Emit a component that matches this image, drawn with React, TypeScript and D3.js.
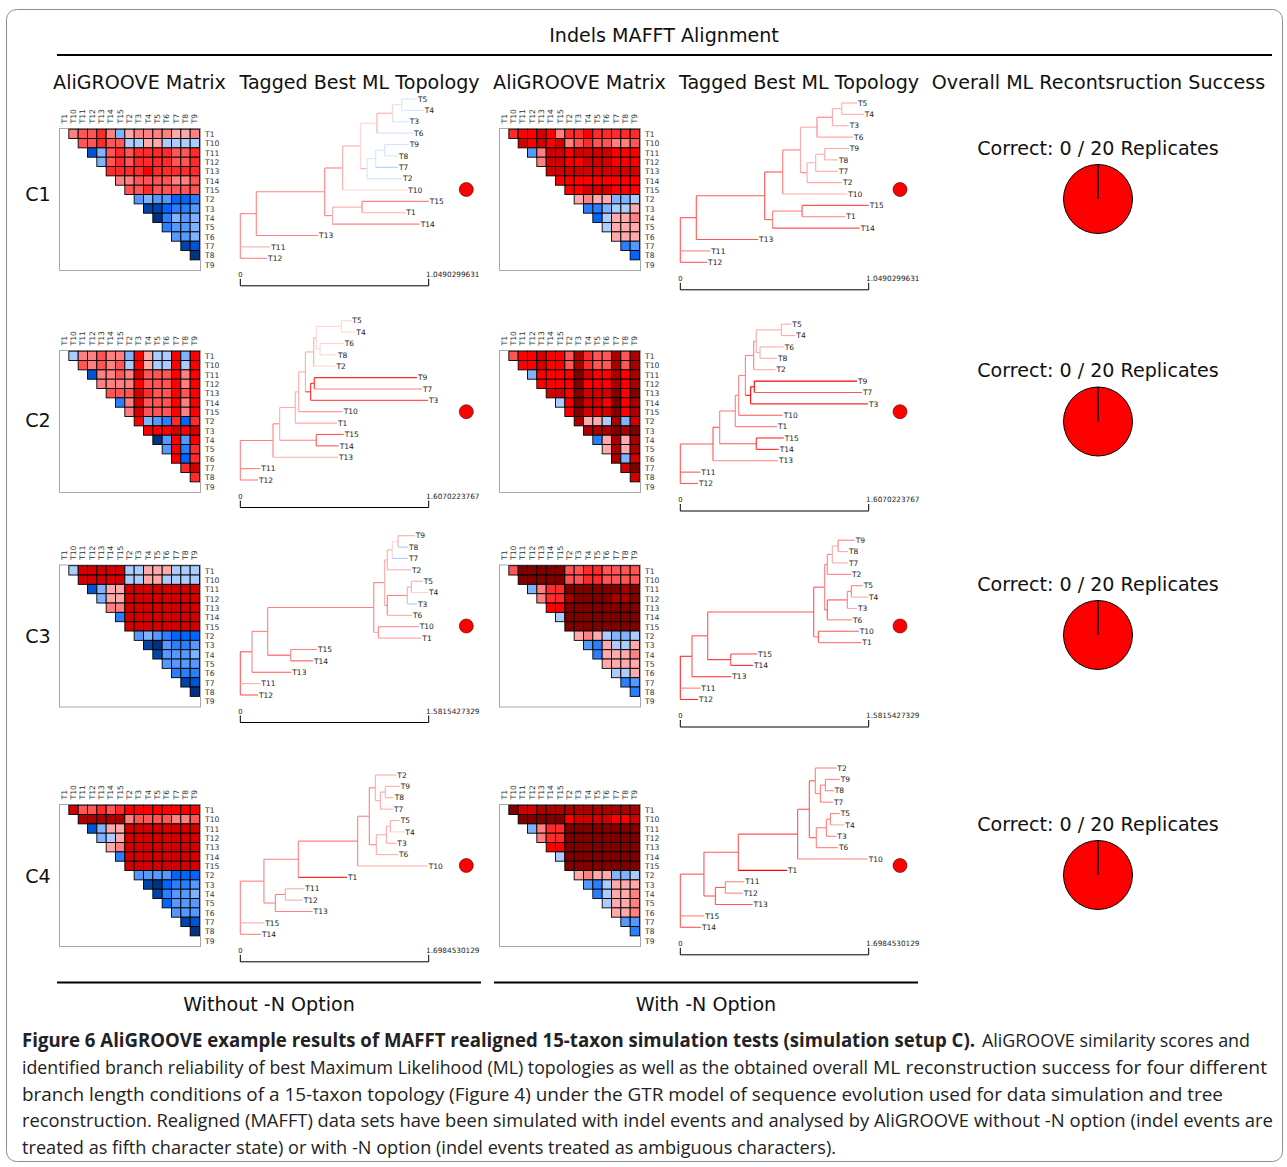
import * as d3 from "d3";

// matrix row / column order
const taxa = ["T1", "T10", "T11", "T12", "T13", "T14", "T15", "T2", "T3", "T4", "T5", "T6", "T7", "T8", "T9"];

// score levels: negative = blue (dissimilar), positive = red (similar)
const levels = [-9, -8, -7, -6, -5, -4, -3, -2, -1, 1, 2, 3, 4, 5, 6, 7, 8, 9];
const levelColors = [
  "#003380", "#0044aa", "#0055d4", "#0066ff", "#2a7fff", "#5599ff", "#80b3ff", "#aaccff", "#d5e5ff",
  "#ffd5d5", "#ffaaaa", "#ff8080", "#ff5555", "#ff2a2a", "#ff0000", "#d40000", "#aa0000", "#800000",
];

const c1Without = [
  [3, 4, 4, 5, 3, -3, 2, 3, 3, 3, 3, 2, 2, 3],
  [4, 4, 5, 4, 4, -2, -2, 2, 2, -2, -2, -2, -2],
  [-7, -3, 4, 5, 4, 5, 5, 5, 5, 4, 4, 5],
  [-3, 4, 5, 4, 5, 5, 5, 5, 4, 4, 5],
  [5, 5, 5, 5, 6, 5, 5, 5, 5, 5],
  [3, 3, 4, 4, 4, 4, 3, 3, 4],
  [4, 4, 5, 4, 4, 4, 4, 4],
  [-4, -3, -4, -4, -6, -6, -5],
  [-8, -8, -6, -5, -5, -4],
  [-9, -5, -3, -4, -3],
  [-5, -4, -4, -3],
  [-4, -4, -3],
  [-8, -7],
  [-9],
];
const c1With = [
  [5, 6, 6, 7, 6, 3, 5, 5, 6, 5, 5, 5, 5, 5],
  [7, 6, 7, 6, 7, 3, 4, 5, 4, 4, 3, 3, 4],
  [-4, 3, 7, 7, 6, 7, 7, 7, 7, 6, 6, 6],
  [3, 7, 7, 6, 6, 7, 7, 7, 6, 6, 6],
  [7, 7, 7, 7, 7, 7, 7, 7, 7, 7],
  [6, 6, 6, 6, 6, 6, 6, 6, 6],
  [6, 6, 7, 7, 7, 6, 6, 6],
  [2, 3, 2, 2, -3, -3, -2],
  [-5, -5, -3, -2, -2, 2],
  [-6, -2, 2, 2, 3],
  [-2, 2, 2, 2],
  [2, 2, 2],
  [-5, -4],
  [-6],
];
const c2Without = [
  [-2, 3, 3, 4, 3, 3, -3, 6, 2, -2, -2, 6, -3, 6],
  [4, 3, 4, 3, 4, -2, 6, 2, -2, -2, 6, -2, 6],
  [-7, 3, 3, 4, 3, 7, 4, 4, 4, 6, 3, 6],
  [3, 3, 3, 3, 6, 4, 4, 4, 6, 3, 6],
  [4, 4, 4, 7, 5, 4, 4, 6, 4, 6],
  [-5, 3, 7, 4, 4, 4, 6, 3, 6],
  [3, 7, 4, 4, 4, 6, 3, 6],
  [6, -3, -4, -5, 5, -6, 5],
  [6, 6, 6, 7, 6, 7],
  [-9, -4, 6, -4, 6],
  [-4, 6, -5, 5],
  [6, -6, 5],
  [5, 7],
  [5],
];
const c2With = [
  [4, 6, 6, 7, 6, 6, 4, 8, 5, 4, 4, 8, 4, 8],
  [6, 6, 7, 6, 6, 4, 8, 5, 4, 4, 8, 4, 8],
  [-3, 6, 6, 6, 6, 9, 7, 6, 6, 8, 6, 8],
  [6, 6, 6, 6, 9, 6, 6, 6, 8, 6, 8],
  [7, 7, 6, 9, 7, 7, 7, 9, 6, 9],
  [-2, 6, 9, 7, 7, 6, 9, 6, 8],
  [6, 9, 7, 7, 7, 9, 6, 8],
  [8, 2, 2, -2, 8, -3, 7],
  [8, 8, 8, 9, 8, 9],
  [-5, 2, 8, 2, 8],
  [2, 8, 2, 8],
  [8, -3, 7],
  [7, 9],
  [7],
];
const c3Without = [
  [-2, 7, 7, 7, 7, 7, -2, -2, 2, 2, 2, -2, -2, -2],
  [7, 7, 7, 7, 7, -2, -2, 2, 2, -2, -2, -2, -2],
  [-7, -3, 2, 2, 7, 7, 7, 7, 7, 7, 7, 7],
  [-3, 2, 2, 7, 7, 7, 7, 7, 7, 7, 7],
  [3, 3, 7, 7, 7, 7, 7, 7, 7, 7],
  [-5, 7, 7, 7, 7, 7, 7, 7, 7],
  [7, 7, 7, 7, 7, 7, 7, 7],
  [-4, -3, -4, -5, -6, -6, -6],
  [-8, -9, -4, -5, -5, -4],
  [-8, -4, -4, -4, -3],
  [-4, -4, -4, -4],
  [-5, -5, -5],
  [-8, -7],
  [-9],
];
const c3With = [
  [4, 9, 9, 9, 9, 9, 4, 4, 5, 5, 4, 4, 4, 4],
  [9, 9, 9, 9, 9, 4, 4, 5, 5, 4, 4, 4, 4],
  [-3, 3, 5, 5, 9, 9, 9, 9, 9, 9, 8, 9],
  [3, 5, 5, 8, 9, 9, 9, 9, 8, 8, 9],
  [6, 6, 9, 9, 9, 9, 9, 9, 9, 9],
  [-2, 9, 9, 9, 9, 9, 9, 9, 9],
  [9, 9, 9, 9, 9, 9, 9, 9],
  [2, 3, 2, -2, -3, -3, -2],
  [-4, -5, 2, -2, -2, 2],
  [-5, 2, 2, 2, 3],
  [2, 2, 2, 2],
  [-2, -2, 2],
  [-5, -4],
  [-5],
];
const c4Without = [
  [7, 4, 4, 5, 4, 5, 6, 6, 6, 6, 6, 6, 6, 6],
  [8, 8, 8, 8, 8, 3, 4, 4, 4, 4, 3, 3, 4],
  [-7, -3, 2, 2, 7, 7, 7, 7, 7, 7, 7, 7],
  [-3, -2, 2, 7, 7, 7, 7, 7, 7, 7, 7],
  [2, 3, 7, 7, 7, 7, 7, 7, 7, 7],
  [-5, 7, 7, 7, 7, 7, 7, 7, 7],
  [7, 7, 7, 7, 7, 7, 7, 7],
  [-4, -4, -4, -4, -6, -6, -6],
  [-8, -9, -6, -5, -5, -4],
  [-8, -5, -4, -4, -3],
  [-6, -4, -4, -4],
  [-4, -4, -4],
  [-8, -7],
  [-9],
];
const c4With = [
  [9, 7, 7, 8, 8, 8, 8, 8, 8, 8, 8, 8, 8, 8],
  [9, 9, 9, 9, 9, 6, 7, 7, 7, 7, 6, 6, 7],
  [-3, 3, 5, 5, 9, 9, 9, 9, 9, 9, 9, 9],
  [3, 5, 5, 9, 9, 9, 9, 9, 9, 9, 9],
  [6, 6, 9, 9, 9, 9, 9, 9, 9, 9],
  [-2, 9, 9, 9, 9, 9, 9, 9, 9],
  [9, 9, 9, 9, 9, 9, 9, 9],
  [2, 3, 2, 2, -3, -3, -2],
  [-4, -5, -2, 2, 2, 2],
  [-5, -2, 2, 2, 3],
  [-2, 2, 2, 3],
  [2, 2, 3],
  [-4, -4],
  [-5],
];

interface TreeNode {
  depth: number; // root distance in substitutions
  level: number;
  name?: string;
  children?: TreeNode[];
}
const n = (depth: number, level: number, ...children: TreeNode[]): TreeNode => ({ depth, level, children });
const l = (name: string, depth: number, level: number): TreeNode => ({ name, depth, level });

const treeC1 = n(0, 3,
  n(0.089, 3,
    n(0.47, 3,
      n(0.57, 3,
        n(0.669, 2,
          n(0.761, 1,
            n(0.847, 2,
              n(0.899, 1, l("T5", 0.984, -1), l("T4", 1.021, -1)),
              l("T3", 0.938, -1)),
            l("T6", 0.962, -1)),
          n(0.706, 2,
            n(0.754, -1,
              n(0.804, -1, l("T9", 0.938, -1), l("T8", 0.878, -1)),
              l("T7", 0.878, -2)),
            l("T2", 0.901, -1))),
        l("T10", 0.929, 1)),
      n(0.514, 3,
        n(0.678, 2, l("T15", 1.049, 3), l("T1", 0.919, 2)),
        l("T14", 0.999, 3))),
    l("T13", 0.433, 3)),
  l("T11", 0.167, 2),
  l("T12", 0.149, 3));

const treeC2 = n(0, 3,
  n(0.279, 3,
    n(0.336, 3,
      n(0.469, 2,
        n(0.498, 2,
          n(0.555, 2,
            n(0.626, 2,
              n(0.648, 2,
                n(0.862, 1, l("T5", 0.947, 1), l("T4", 0.981, 1)),
                n(0.68, 1, l("T6", 0.882, 1), l("T8", 0.825, 1))),
              l("T2", 0.811, 1)),
            n(0.6, 5,
              n(0.631, 5, l("T9", 1.507, 5), l("T7", 1.55, 3)),
              l("T3", 1.601, 4))),
          l("T10", 0.873, 3)),
        l("T1", 0.825, 2)),
      n(0.648, 3, l("T15", 0.882, 4), l("T14", 0.839, 4))),
    l("T13", 0.833, 2)),
  l("T11", 0.171, 3),
  l("T12", 0.151, 3));

const treeC3 = n(0, 4,
  n(0.098, 4,
    n(0.23, 3,
      n(1.12, 3,
        n(1.212, 3,
          n(1.234, 2,
            n(1.276, 2,
              n(1.324, 1, l("T9", 1.464, 2), l("T8", 1.408, -2)),
              l("T7", 1.408, -2)),
            l("T2", 1.433, 2)),
          n(1.234, 3,
            n(1.402, 3,
              n(1.436, 2, l("T5", 1.531, 2), l("T4", 1.576, 1)),
              l("T3", 1.483, -2)),
            l("T6", 1.441, 2))),
        n(1.159, 2, l("T10", 1.497, 3), l("T1", 1.52, 2))),
      n(0.423, 4, l("T15", 0.644, 3), l("T14", 0.61, 4))),
    l("T13", 0.428, 4)),
  l("T11", 0.168, 2),
  l("T12", 0.148, 4));

const treeC4 = n(0, 3,
  n(0.213, 3,
    n(0.523, 3,
      n(1.058, 3,
        n(1.163, 3,
          n(1.217, 3,
            l("T2", 1.407, 2),
            n(1.263, 2,
              n(1.308, 2, l("T9", 1.437, 2), l("T8", 1.383, 2)),
              l("T7", 1.377, 2))),
          n(1.226, 3,
            n(1.317, 2,
              n(1.353, 2, l("T5", 1.437, 2), l("T4", 1.479, 1)),
              l("T3", 1.407, 2)),
            l("T6", 1.422, 2))),
        l("T10", 1.689, 2)),
      l("T1", 0.962, 5)),
    n(0.316, 3,
      n(0.406, 3, l("T11", 0.577, 2), l("T12", 0.562, 2)),
      l("T13", 0.652, 3))),
  l("T15", 0.216, 2),
  l("T14", 0.186, 3));

const treeLengths = ["1.0490299631", "1.6070223767", "1.5815427329", "1.6984530129"];
const conditions = ["C1", "C2", "C3", "C4"];
const pieValues = [20, 0]; // failed, correct
const captionBold = "Figure 6 AliGROOVE example results of MAFFT realigned 15-taxon simulation tests (simulation setup C).";
// [text, x, width, baseline]
const captionRuns: [string, number, number, number][] = [
  ["AliGROOVE similarity scores and", 982, 268, 1047],
  ["identified branch reliability of best Maximum Likelihood (ML) topologies as well as the obtained overall", 22, 846, 1074],
  ["ML reconstruction success for four different", 873, 394, 1074],
  ["branch length conditions of a 15-taxon topology (Figure 4) under the GTR model of sequence evolution used for data simulation and tree", 22, 1201, 1100.5],
  ["reconstruction. Realigned (MAFFT) data sets have been simulated with indel events and analysed by AliGROOVE", 22, 947, 1127],
  ["without -N option (indel events are", 974, 299, 1127],
  ["treated as fifth character state) or with -N option (indel events treated as ambiguous characters).", 22, 814, 1153.5],
];

const color = d3.scaleOrdinal<number, string>().domain(levels).range(levelColors);
const FONT = "'DejaVu Sans', sans-serif";

function Matrix({ rows, x, y }: { rows: number[][]; x: number; y: number }) {
  const xs = d3.scaleBand().domain(taxa).range([x, x + 140]);
  const ys = d3.scaleBand().domain(taxa).range([y + 0.7, y + 140.7]);
  const w = xs.bandwidth();
  return (
    <g fontFamily={FONT} fontSize={7.6} fill="#333">
      <rect x={x} y={y} width={141} height={142} fill="#fff" stroke="#a8a8a8" strokeWidth={1} />
      {taxa.map((t) => (
        <g key={t}>
          <text transform={`translate(${xs(t)! + w / 2 + 2.6},${y - 5}) rotate(-90)`}>{t}</text>
          <text x={x + 145.5} y={ys(t)! + w / 2 + 3.2}>{t}</text>
        </g>
      ))}
      {rows.map((row, i) =>
        row.map((v, j) => (
          <rect
            key={`${i}-${j}`}
            x={xs(taxa[i + 1 + j])!}
            y={ys(taxa[i])!}
            width={w}
            height={w}
            fill={color(v)}
            stroke="#000"
            strokeWidth={0.9}
          />
        ))
      )}
    </g>
  );
}

function Tree({ root, x, top, bottom, barY, length, withN }: {
  root: TreeNode; x: number; top: number; bottom: number; barY: number; length: string; withN: boolean;
}) {
  const h = d3.hierarchy(root);
  const leaves = h.leaves();
  const sx = d3.scaleLinear().domain([0, +length]).range([x, x + 188.4]);
  const sy = d3.scalePoint<number>().domain(d3.range(leaves.length)).range([top, bottom]);
  const pos = new Map<d3.HierarchyNode<TreeNode>, number>();
  leaves.forEach((leaf, i) => pos.set(leaf, sy(i)!));
  h.eachAfter((node) => {
    if (node.children) {
      const a = pos.get(node.children[0])!;
      const b = pos.get(node.children[node.children.length - 1])!;
      pos.set(node, (a + b) / 2);
    }
  });
  // with -N the branch scores run one step stronger
  const branchColor = (level: number) => color(withN ? (level < 0 ? 2 : Math.min(level + 1, 9)) : level);
  return (
    <g fontFamily={FONT} fontSize={7.5} fill="#222">
      {h.descendants().map((node, i) => {
        const y = pos.get(node)!;
        const xEnd = sx(node.data.depth);
        return (
          <g key={i}>
            {node.parent && (
              <path
                d={`M${sx(node.parent.data.depth)},${y}H${xEnd}`}
                stroke={branchColor(node.data.level)}
                strokeWidth={1.1}
                fill="none"
              />
            )}
            {node.children && (
              <path
                d={`M${xEnd},${pos.get(node.children[0])}V${pos.get(node.children[node.children.length - 1])}`}
                stroke={branchColor(node.children[0].data.level)}
                strokeWidth={1.1}
                fill="none"
              />
            )}
            {node.data.name && <text x={xEnd + 1} y={y + 2.7}>{node.data.name}</text>}
          </g>
        );
      })}
      <path d={`M${sx(0)},${barY - 7}V${barY}H${sx(+length)}V${barY - 7}`} fill="none" stroke="#000" />
      <text x={sx(0)} y={barY - 8.6} textAnchor="middle" fontSize={6.8}>0</text>
      <text x={sx(+length) - 2.6} y={barY - 8.6} fontSize={7.3}>{length}</text>
    </g>
  );
}

function SuccessPie({ cx, cy, titleY }: { cx: number; cy: number; titleY: number }) {
  const arcs = d3.pie<number>().sort(null)(pieValues);
  const arc = d3.arc<d3.PieArcDatum<number>>().innerRadius(0).outerRadius(34.5);
  return (
    <g>
      <text x={cx} y={titleY} textAnchor="middle" fontFamily={FONT} fontSize={19.1} fill="#111">
        Correct: 0 / 20 Replicates
      </text>
      <g transform={`translate(${cx},${cy})`}>
        {arcs.map((a, i) => (
          <path key={i} d={arc(a)!} fill="#ff0000" stroke="#000" strokeWidth={1} />
        ))}
      </g>
    </g>
  );
}

const panelRows = [
  { tree: treeC1, without: c1Without, withN: c1With },
  { tree: treeC2, without: c2Without, withN: c2With },
  { tree: treeC3, without: c3Without, withN: c3With },
  { tree: treeC4, without: c4Without, withN: c4With },
];
// layout of the four rows, in page pixels
const matrixTop = [128.5, 350.5, 565, 804.5];
const treeTop = [99, 320.7, 535.7, 775];
const treeShift = [4, 3.5, 4.5, -7];
const dotY = [189.5, 411.7, 626, 865.5];
const pieY = [199, 421.5, 635, 875];
const titleY = [155, 377, 591, 831];
const labelY = [201, 427, 643, 883];

export default function App() {
  const head = { fontFamily: FONT, fontSize: 19.1, fill: "#111" };
  const columnTitles: [string, number][] = [
    ["AliGROOVE Matrix", 139.5],
    ["Tagged Best ML Topology", 359.5],
    ["AliGROOVE Matrix", 579.5],
    ["Tagged Best ML Topology", 799],
    ["Overall ML Recontsruction Success", 1098.5],
  ];
  return (
    <svg width={1287} height={1167} style={{ position: "absolute", left: 0, top: 0, display: "block", background: "#fff" }}>
      <rect x={6.5} y={9.5} width={1276} height={1152} rx={10} fill="#fff" stroke="#8c8c8c" />

      <text x={664} y={42} textAnchor="middle" {...head}>Indels MAFFT Alignment</text>
      <line x1={57} x2={1272} y1={55} y2={55} stroke="#000" strokeWidth={2} />
      {columnTitles.map(([t, cx], i) => (
        <text key={i} x={cx} y={89} textAnchor="middle" {...head}>{t}</text>
      ))}

      {panelRows.map((row, i) => {
        const bottom = treeTop[i] + 159.3;
        const barY = bottom + 27.5;
        return (
          <g key={i}>
            <text x={38} y={labelY[i]} textAnchor="middle" {...head}>{conditions[i]}</text>
            <Matrix rows={row.without} x={59.5} y={matrixTop[i]} />
            <Matrix rows={row.withN} x={499.5} y={matrixTop[i]} />
            <Tree root={row.tree} x={240.3} top={treeTop[i]} bottom={bottom} barY={barY} length={treeLengths[i]} withN={false} />
            <Tree
              root={row.tree}
              x={680.3}
              top={treeTop[i] + treeShift[i]}
              bottom={bottom + treeShift[i]}
              barY={barY + treeShift[i]}
              length={treeLengths[i]}
              withN={true}
            />
            <circle cx={466.3} cy={dotY[i]} r={7} fill="#ff0000" stroke="#400" strokeWidth={0.6} />
            <circle cx={900} cy={dotY[i]} r={7} fill="#ff0000" stroke="#400" strokeWidth={0.6} />
            <SuccessPie cx={1098} cy={pieY[i]} titleY={titleY[i]} />
          </g>
        );
      })}

      <line x1={57} x2={481} y1={982.5} y2={982.5} stroke="#000" strokeWidth={2} />
      <line x1={494} x2={918} y1={982.5} y2={982.5} stroke="#000" strokeWidth={2} />
      <text x={269} y={1011} textAnchor="middle" {...head}>Without -N Option</text>
      <text x={706} y={1011} textAnchor="middle" {...head}>With -N Option</text>

      <g fontFamily="'Open Sans', 'Noto Sans', sans-serif" fontSize={19} fill="#222">
        <text x={22} y={1047} fontWeight={700} textLength={953} lengthAdjust="spacingAndGlyphs">{captionBold}</text>
        {captionRuns.map(([t, x, w, y], i) => (
          <text key={i} x={x} y={y} textLength={w} lengthAdjust="spacingAndGlyphs">{t}</text>
        ))}
      </g>
    </svg>
  );
}
